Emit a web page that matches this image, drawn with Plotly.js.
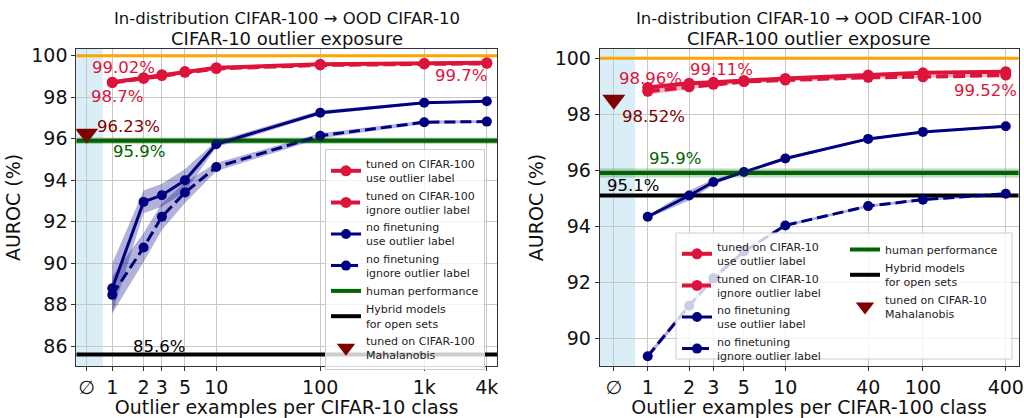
<!DOCTYPE html>
<html>
<head>
<meta charset="utf-8">
<script src="https://cdn.plot.ly/plotly-3.0.1.min.js"></script>
<style>html,body{margin:0;padding:0;background:#fff}#chart{width:1024px;height:418px}</style>
</head>
<body>
<div id="chart"></div>
<script>
// ---------------- DATA ----------------
// Left panel: in-distribution CIFAR-100, OOD CIFAR-10
const xLeft = [1, 2, 3, 5, 10, 100, 1000, 4000];
const xLeftTickText = ['∅', '1', '2', '3', '5', '10', '100', '1k', '4k'];
const leftTunedUse = [98.72, 98.94, 99.08, 99.23, 99.42, 99.58, 99.63, 99.66];
const leftTunedUseSd = [0.08, 0.08, 0.08, 0.06, 0.05, 0.04, 0.04, 0.04];
const leftTunedIgnore = [98.70, 98.90, 99.04, 99.20, 99.38, 99.55, 99.60, 99.63];
const leftTunedIgnoreSd = [0.08, 0.08, 0.08, 0.06, 0.05, 0.04, 0.04, 0.04];
const leftNoFtUse = [88.79, 92.95, 93.27, 93.99, 95.73, 97.25, 97.73, 97.80];
const leftNoFtUseSd = [1.2, 0.55, 0.55, 0.55, 0.15, 0.10, 0.06, 0.05];
const leftNoFtIgnore = [88.47, 90.75, 92.24, 93.40, 94.63, 96.14, 96.79, 96.82];
const leftNoFtIgnoreSd = [0.9, 0.7, 0.65, 0.5, 0.2, 0.12, 0.08, 0.06];
const leftHuman = 95.9, leftHybrid = 85.6, leftMahalanobis = 96.23;

// Right panel: in-distribution CIFAR-10, OOD CIFAR-100
const xRight = [1, 2, 3, 5, 10, 40, 100, 400];
const xRightTickText = ['∅', '1', '2', '3', '5', '10', '40', '100', '400'];
const rightTunedUse = [98.96, 99.11, 99.14, 99.21, 99.28, 99.40, 99.48, 99.52];
const rightTunedUseSd = [0.08, 0.06, 0.05, 0.05, 0.04, 0.04, 0.04, 0.04];
const rightTunedIgnore = [98.82, 98.98, 99.07, 99.17, 99.22, 99.32, 99.34, 99.40];
const rightTunedIgnoreSd = [0.12, 0.08, 0.06, 0.05, 0.05, 0.05, 0.05, 0.05];
const rightNoFtUse = [94.34, 95.10, 95.58, 95.94, 96.42, 97.12, 97.37, 97.57];
const rightNoFtUseSd = [0.05, 0.18, 0.10, 0.05, 0.05, 0.05, 0.04, 0.04];
const rightNoFtIgnore = [89.36, 91.16, 92.14, 93.10, 94.03, 94.72, 94.95, 95.16];
const rightNoFtIgnoreSd = [0.08, 0.10, 0.08, 0.06, 0.05, 0.05, 0.05, 0.05];
const rightHuman = 95.9, rightHybrid = 95.1, rightMahalanobis = 98.52;

const humanBandHalf = 0.16;
const ceiling = 100;

// ---------------- STYLE / LAYOUT ----------------
const W = 1024, H = 418;
const FONT = 'DejaVu Sans, sans-serif';
const CRIMSON = '#DC143C', NAVY = '#000080', DGREEN = '#006400', ORANGE = '#FFA500', MAROON = '#800000';
const emptySetX = 0.567;      // where the ∅ tick sits on the log axis
const emptyBandEnd = 0.81;    // end of the light-blue ∅ strip
const leftXRange = [-0.346, 3.70], rightXRange = [-0.349, 2.696];
const leftYRange = [85.04, 100.32], rightYRange = [89.02, 100.32];

const px = (x) => x / W, py = (y) => 1 - y / H;

function band(xs, m, sd, color, xa, ya) {
  const up = m.map((v, i) => v + sd[i]);
  const lo = m.map((v, i) => v - sd[i]);
  return {x: xs.concat(xs.slice().reverse()), y: up.concat(lo.reverse()),
    type: 'scatter', mode: 'lines', fill: 'toself', fillcolor: color,
    line: {width: 0}, hoverinfo: 'skip', showlegend: false, xaxis: xa, yaxis: ya};
}
function series(xs, ys, name, color, dash, lw, ms, xa, ya, legend, rank) {
  return {x: xs, y: ys, name: name, type: 'scatter', mode: 'lines+markers',
    line: {color: color, width: lw, dash: dash}, marker: {color: color, size: ms},
    xaxis: xa, yaxis: ya, legend: legend, legendrank: rank};
}
function hline(range, yv, name, color, lw, xa, ya, legend, show, rank) {
  return {x: [Math.pow(10, range[0]), Math.pow(10, range[1])], y: [yv, yv], name: name,
    type: 'scatter', mode: 'lines', line: {color: color, width: lw}, xaxis: xa, yaxis: ya,
    legend: legend, showlegend: show, hoverinfo: 'skip', legendrank: rank || 1000};
}

const redBand = 'rgba(220,20,60,0.3)', blueBand = 'rgba(0,0,128,0.3)';

const traces = [
  // left
  hline(leftXRange, ceiling, '', ORANGE, 3, 'x', 'y', 'legend', false),
  hline(leftXRange, leftHuman, 'human performance', DGREEN, 4, 'x', 'y', 'legend', true, 5),
  hline(leftXRange, leftHybrid, 'Hybrid models<br>for open sets', 'black', 4, 'x', 'y', 'legend', true, 6),
  band(xLeft, leftNoFtUse, leftNoFtUseSd, blueBand, 'x', 'y'),
  band(xLeft, leftNoFtIgnore, leftNoFtIgnoreSd, blueBand, 'x', 'y'),
  band(xLeft, leftTunedUse, leftTunedUseSd, redBand, 'x', 'y'),
  band(xLeft, leftTunedIgnore, leftTunedIgnoreSd, redBand, 'x', 'y'),
  series(xLeft, leftTunedUse, 'tuned on CIFAR-100<br>use outlier label', CRIMSON, 'solid', 4, 11, 'x', 'y', 'legend', 1),
  series(xLeft, leftTunedIgnore, 'tuned on CIFAR-100<br>ignore outlier label', CRIMSON, '12px,5px', 4, 11, 'x', 'y', 'legend', 2),
  series(xLeft, leftNoFtUse, 'no finetuning<br>use outlier label', NAVY, 'solid', 3, 10, 'x', 'y', 'legend', 3),
  series(xLeft, leftNoFtIgnore, 'no finetuning<br>ignore outlier label', NAVY, '11px,5px', 3, 10, 'x', 'y', 'legend', 4),
  {x: [emptySetX], y: [leftMahalanobis], name: 'tuned on CIFAR-100<br>Mahalanobis', type: 'scatter', mode: 'markers',
   marker: {symbol: 'triangle-down', size: 20, color: MAROON}, xaxis: 'x', yaxis: 'y', legend: 'legend', legendrank: 7},
  // right
  hline(rightXRange, ceiling, '', ORANGE, 3, 'x2', 'y2', 'legend3', false),
  hline(rightXRange, rightHuman, 'human performance', DGREEN, 4, 'x2', 'y2', 'legend3', true, 5),
  hline(rightXRange, rightHybrid, 'Hybrid models<br>for open sets', 'black', 4, 'x2', 'y2', 'legend3', true, 6),
  band(xRight, rightNoFtUse, rightNoFtUseSd, blueBand, 'x2', 'y2'),
  band(xRight, rightNoFtIgnore, rightNoFtIgnoreSd, blueBand, 'x2', 'y2'),
  band(xRight, rightTunedUse, rightTunedUseSd, redBand, 'x2', 'y2'),
  band(xRight, rightTunedIgnore, rightTunedIgnoreSd, redBand, 'x2', 'y2'),
  series(xRight, rightTunedUse, 'tuned on CIFAR-10<br>use outlier label', CRIMSON, 'solid', 4, 11, 'x2', 'y2', 'legend2', 1),
  series(xRight, rightTunedIgnore, 'tuned on CIFAR-10<br>ignore outlier label', CRIMSON, '12px,5px', 4, 11, 'x2', 'y2', 'legend2', 2),
  series(xRight, rightNoFtUse, 'no finetuning<br>use outlier label', NAVY, 'solid', 3, 10, 'x2', 'y2', 'legend2', 3),
  series(xRight, rightNoFtIgnore, 'no finetuning<br>ignore outlier label', NAVY, '11px,5px', 3, 10, 'x2', 'y2', 'legend2', 4),
  {x: [emptySetX], y: [rightMahalanobis], name: 'tuned on CIFAR-10<br>Mahalanobis', type: 'scatter', mode: 'markers',
   marker: {symbol: 'triangle-down', size: 20, color: MAROON}, xaxis: 'x2', yaxis: 'y2', legend: 'legend3', legendrank: 7}
];

const TICK = 19, AXT = 19, TITLE = 16.5;
function xaxisDef(domain, range, vals, text, title) {
  return {type: 'log', domain: domain, range: range, tickvals: [emptySetX].concat(vals), ticktext: text,
    showgrid: true, gridcolor: '#c8c8c8', gridwidth: 1, showline: true, linecolor: '#333', linewidth: 1,
    mirror: true, ticks: 'outside', ticklen: 4, tickcolor: '#333', zeroline: false,
    tickfont: {size: TICK, color: '#111'}, title: {text: title, font: {size: AXT, color: '#111'}, standoff: 5}};
}
function yaxisDef(domain, range, anchor) {
  return {domain: domain, range: range, anchor: anchor, dtick: 2, tick0: 0,
    showgrid: true, gridcolor: '#c8c8c8', gridwidth: 1, showline: true, linecolor: '#333', linewidth: 1,
    mirror: true, ticks: 'outside', ticklen: 4, tickcolor: '#333', zeroline: false,
    tickfont: {size: TICK, color: '#111'}, title: {text: 'AUROC (%)', font: {size: AXT, color: '#111'}, standoff: 5}};
}

const lDomX = [px(76.3), px(497)], lDomY = [py(366), py(49)];
const rDomX = [px(599.7), px(1018.7)], rDomY = [py(365.7), py(49.3)];

function stripEnd(range) { return (Math.log10(emptyBandEnd) - range[0]) / (range[1] - range[0]); }

function ann(text, x, y, color, size) {
  return {text: text, x: px(x), y: py(y), xref: 'paper', yref: 'paper', showarrow: false,
    xanchor: 'center', yanchor: 'middle', font: {size: size || 16.5, color: color, family: FONT}};
}

const legendBase = {font: {size: 11, color: '#222', family: FONT}, valign: 'middle',
  tracegroupgap: 0, itemwidth: 30};

const layout = {
  width: W, height: H, margin: {l: 0, r: 0, t: 0, b: 0},
  paper_bgcolor: 'white', plot_bgcolor: 'white',
  font: {family: FONT, color: '#111'},
  xaxis: xaxisDef(lDomX, leftXRange, xLeft, xLeftTickText, 'Outlier examples per CIFAR-10 class'),
  yaxis: yaxisDef(lDomY, leftYRange, 'x'),
  xaxis2: Object.assign(xaxisDef(rDomX, rightXRange, xRight, xRightTickText, 'Outlier examples per CIFAR-100 class'), {anchor: 'y2'}),
  yaxis2: yaxisDef(rDomY, rightYRange, 'x2'),
  showlegend: true,
  legend: Object.assign({}, legendBase, {x: px(325), y: py(149), xanchor: 'left', yanchor: 'top',
    bgcolor: 'rgba(255,255,255,0.8)', bordercolor: '#cccccc', borderwidth: 1}),
  legend2: Object.assign({}, legendBase, {x: px(677), y: py(233), xanchor: 'left', yanchor: 'top',
    bgcolor: 'rgba(0,0,0,0)', borderwidth: 0}),
  legend3: Object.assign({}, legendBase, {x: px(845), y: py(235), xanchor: 'left', yanchor: 'top',
    bgcolor: 'rgba(0,0,0,0)', borderwidth: 0}),
  shapes: [
    {type: 'rect', xref: 'x domain', yref: 'y domain', x0: 0, x1: stripEnd(leftXRange), y0: 0, y1: 1,
     fillcolor: '#d9eef7', line: {width: 0}, layer: 'below'},
    {type: 'rect', xref: 'x2 domain', yref: 'y2 domain', x0: 0, x1: stripEnd(rightXRange), y0: 0, y1: 1,
     fillcolor: '#d9eef7', line: {width: 0}, layer: 'below'},
    {type: 'rect', xref: 'x domain', yref: 'y', x0: 0, x1: 1, y0: leftHuman - humanBandHalf, y1: leftHuman + humanBandHalf,
     fillcolor: 'rgba(0,100,0,0.25)', line: {width: 0}, layer: 'above'},
    {type: 'rect', xref: 'x2 domain', yref: 'y2', x0: 0, x1: 1, y0: rightHuman - humanBandHalf, y1: rightHuman + humanBandHalf,
     fillcolor: 'rgba(0,100,0,0.25)', line: {width: 0}, layer: 'above'},
    {type: 'rect', xref: 'paper', yref: 'paper', x0: px(676), x1: px(1012), y0: py(359), y1: py(233),
     fillcolor: 'rgba(255,255,255,0.8)', line: {color: '#cccccc', width: 1}, layer: 'above'}
  ],
  annotations: [
    ann('In-distribution CIFAR-100 → OOD CIFAR-10', 286.6, 18, '#111', TITLE),
    ann('CIFAR-10 outlier exposure', 286.6, 39, '#111', 18),
    ann('In-distribution CIFAR-10 → OOD CIFAR-100', 809.2, 18, '#111', TITLE),
    ann('CIFAR-100 outlier exposure', 809.2, 39, '#111', 18),
    ann('99.02%', 123.5, 67, CRIMSON),
    ann('98.7%', 116.5, 96.7, CRIMSON),
    ann('96.23%', 128.5, 126, MAROON),
    ann('95.9%', 139, 151.7, DGREEN),
    ann('85.6%', 159, 346, 'black'),
    ann('99.7%', 461, 75.7, CRIMSON),
    ann('98.96%', 650, 78.3, CRIMSON),
    ann('99.11%', 721, 69.3, CRIMSON),
    ann('98.52%', 653, 116, MAROON),
    ann('95.9%', 674.5, 159, DGREEN),
    ann('95.1%', 633, 185.7, 'black'),
    ann('99.52%', 985, 90.7, CRIMSON)
  ]
};

Plotly.newPlot('chart', traces, layout, {staticPlot: true, displayModeBar: false});
</script>
</body>
</html>
